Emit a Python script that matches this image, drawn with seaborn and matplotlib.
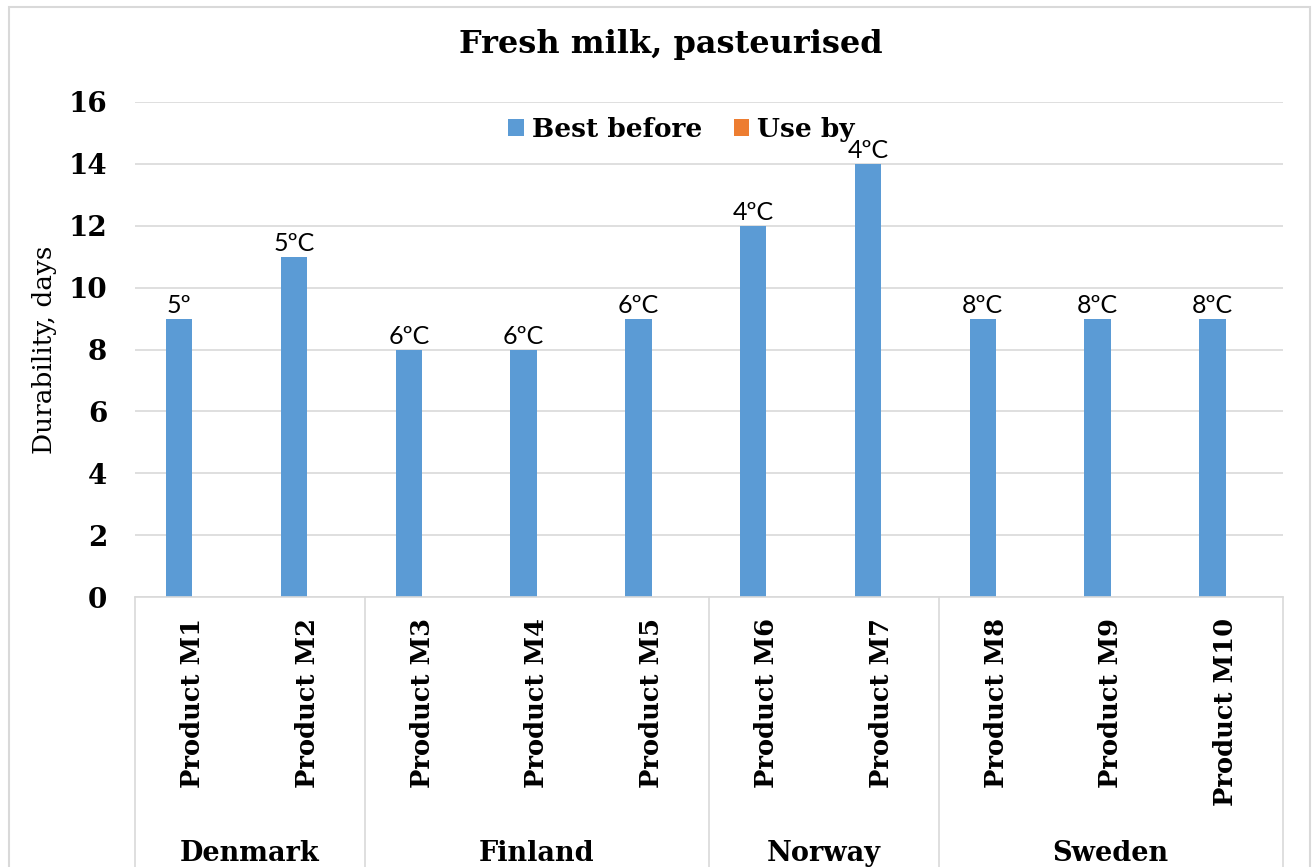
import matplotlib
matplotlib.use("Agg")
import matplotlib.pyplot as plt
import seaborn as sns
import pandas as pd
from matplotlib.patches import Rectangle

# data
products = ["Product M1", "Product M2", "Product M3", "Product M4", "Product M5",
            "Product M6", "Product M7", "Product M8", "Product M9", "Product M10"]
best_before = [9, 11, 8, 8, 9, 12, 14, 9, 9, 9]
use_by = [0, 0, 0, 0, 0, 0, 0, 0, 0, 0]
temp_labels = ["5º", "5ºC", "6ºC", "6ºC", "6ºC", "4ºC", "4ºC", "8ºC", "8ºC", "8ºC"]
countries = ["Denmark", "Finland", "Norway", "Sweden"]
country_sizes = [2, 3, 2, 3]

df = pd.DataFrame({
    "Product": products * 2,
    "Days": best_before + use_by,
    "Series": ["Best before"] * len(products) + ["Use by"] * len(products),
})

sns.set_style("white")
plt.rcParams["text.color"] = "black"
plt.rcParams["axes.labelcolor"] = "black"
plt.rcParams["xtick.color"] = "black"
plt.rcParams["ytick.color"] = "black"
serif = "DejaVu Serif"
sans = "Lato"

fig = plt.figure(figsize=(13.13, 8.67), dpi=100)
ax = fig.add_axes([135 / 1313, 1 - 597 / 867, (1283 - 135) / 1313, (597 - 102) / 867])

sns.barplot(data=df, x="Product", y="Days", hue="Series",
            palette={"Best before": "#5B9BD5", "Use by": "#ED7D31"},
            saturation=1, width=0.46, linewidth=0, ax=ax)

ax.set_ylim(0, 16)
ax.set_yticks(range(0, 17, 2))
ax.set_xlim(-0.5, len(products) - 0.5)
ax.yaxis.grid(True, color="#D9D9D9", linewidth=1.2)
ax.set_axisbelow(True)
for s in ["top", "right", "left"]:
    ax.spines[s].set_visible(False)
ax.spines["bottom"].set_color("#D9D9D9")
ax.spines["bottom"].set_linewidth(1.2)

ax.tick_params(axis="y", length=0, pad=20, labelsize=20)
for lbl in ax.get_yticklabels():
    lbl.set_fontfamily(serif)
    lbl.set_fontweight("bold")
ax.tick_params(axis="x", length=0, pad=15)
ax.set_xticks(range(len(products)))
ax.set_xticklabels(products, rotation=90, fontsize=18.5, fontweight="bold",
                   fontfamily=serif, va="top", ha="center")

ax.set_xlabel("")
ax.set_ylabel("Durability, days", fontsize=19, fontfamily=serif, labelpad=8)

# temperature labels on the best-before bars
ax.bar_label(ax.containers[0], labels=temp_labels, padding=1,
             fontsize=18, fontfamily=sans)

# legend
handles, labels = ax.get_legend_handles_labels()
ax.legend(handles, labels, loc="center", bbox_to_anchor=(0.476, 0.945), ncol=2,
          frameon=False, handlelength=0.6, handleheight=0.6, handletextpad=0.3,
          columnspacing=1.2, prop={"family": serif, "weight": "bold", "size": 19})

# country grouping below the axis
trans = ax.get_xaxis_transform()
edges = [-0.5]
for n in country_sizes:
    edges.append(edges[-1] + n)
for e in edges:
    ax.plot([e, e], [0, -0.7], transform=trans, color="#D9D9D9",
            linewidth=1.2, clip_on=False)
for i, c in enumerate(countries):
    mid = (edges[i] + edges[i + 1]) / 2
    ax.text(mid, -0.518, c, transform=trans, ha="center", va="center",
            fontsize=19.5, fontweight="bold", fontfamily=serif)

fig.text(671 / 1313, 1 - 45 / 867, "Fresh milk, pasteurised", ha="center",
         va="center", fontsize=23, fontweight="bold", fontfamily=serif)

# chart-area border
fig.patches.append(Rectangle((9 / 1313, -0.02), 1301 / 1313, 1.02 - 7 / 867,
                             transform=fig.transFigure, fill=False,
                             edgecolor="#D9D9D9", linewidth=1.5))

fig.savefig("out.png", dpi=100)
